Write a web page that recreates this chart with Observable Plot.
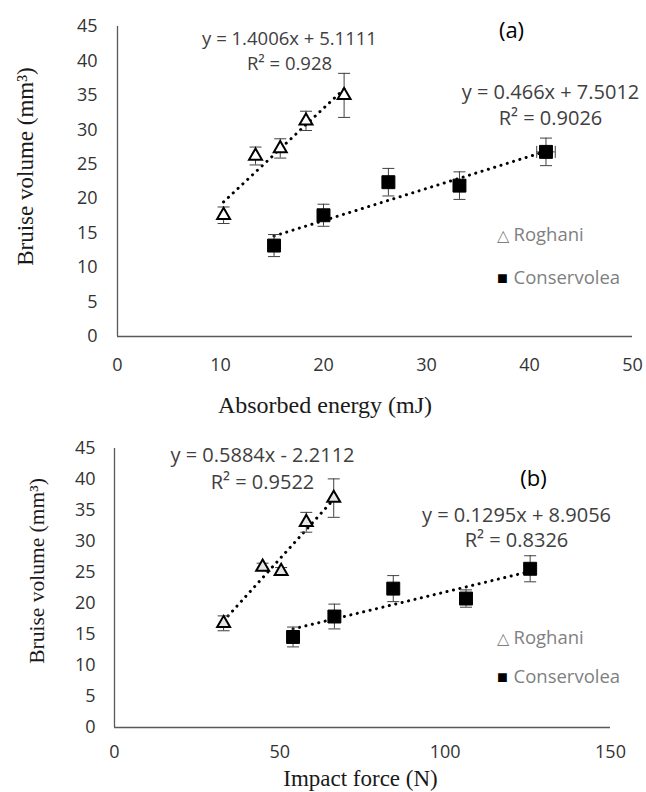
<!DOCTYPE html>
<html><head><meta charset="utf-8">
<script src="https://cdn.jsdelivr.net/npm/d3@7"></script>
<script src="https://cdn.jsdelivr.net/npm/@observablehq/plot@0.6"></script>
<style>body{margin:0;background:#fff} #chart svg{display:block}</style>
</head><body><div id="chart"></div>
<script>
// ---------- Panel (a): absorbed energy ----------
const energyRoghani = [10.3, 13.4, 15.8, 18.3, 22.0];
const volRoghaniA   = [17.6, 26.2, 27.3, 31.3, 35.0];
const errRoghaniA   = [1.2, 1.3, 1.4, 1.4, 3.2];
const energyCons    = [15.2, 20.0, 26.3, 33.2, 41.6];
const volConsA      = [13.2, 17.6, 22.4, 21.9, 26.8];
const errConsA      = [1.6, 1.6, 2.0, 2.0, 2.0];
const xErrConsA     = [0.4, 0.4, 0.5, 0.5, 0.9];
const slopesA       = [1.4006, 0.466];
const interceptsA   = [5.1111, 7.5012];
const eqLabelsA     = ["y = 1.4006x + 5.1111", "R² = 0.928", "y = 0.466x + 7.5012", "R² = 0.9026"];
const xTicksA       = [0, 10, 20, 30, 40, 50];

// ---------- Panel (b): impact force ----------
const forceRoghani  = [33.0, 44.8, 50.4, 58.0, 66.3];
const volRoghaniB   = [16.8, 25.9, 25.2, 33.1, 37.0];
const errRoghaniB   = [1.2, 0.6, 0.6, 1.6, 3.1];
const forceCons     = [54.0, 66.5, 84.3, 106.3, 125.7];
const volConsB      = [14.6, 17.9, 22.4, 20.8, 25.6];
const errConsB      = [1.6, 2.0, 2.1, 1.4, 2.1];
const slopesB       = [0.5884, 0.1295];
const interceptsB   = [-2.2112, 8.9056];
const eqLabelsB     = ["y = 0.5884x - 2.2112", "R² = 0.9522", "y = 0.1295x + 8.9056", "R² = 0.8326"];
const xTicksB       = [0, 50, 100, 150];

const yTicks = [0, 5, 10, 15, 20, 25, 30, 35, 40, 45];
const seriesNames = ["Roghani", "Conservolea"];
const yTitle = "Bruise volume (mm³)";

const capH = {draw(ctx, size){ const w = Math.sqrt(size/Math.PI); ctx.moveTo(-w,0); ctx.lineTo(w,0); }};
const capV = {draw(ctx, size){ const w = Math.sqrt(size/Math.PI); ctx.moveTo(0,-w); ctx.lineTo(0,w); }};

function rows(xs, ys, es, xes){ return xs.map((x,i)=>({x, y: ys[i], e: es[i], xe: xes ? xes[i] : 0})); }
function trend(xs, m, b){ const [x0,x1] = d3.extent(xs); return [{x:x0, y:m*x0+b}, {x:x1, y:m*x1+b}]; }

const SANS = "Open Sans, Liberation Sans, sans-serif";
const SERIF = "Liberation Serif, Times New Roman, serif";

function panel(c){
  const R = rows(c.xr, c.yr, c.er);
  const C = rows(c.xc, c.yc, c.ec, c.xec);
  const ann = (t, o) => Plot.text([t], Object.assign({frameAnchor:"top-left", text:d=>d, fontFamily:SANS, fontSize:20, fill:"#404040", textAnchor:"middle", lineAnchor:"middle"}, o));
  const errStroke = "#404040";
  const errMarks = (D) => [
    Plot.ruleX(D, {x:"x", y1:d=>d.y-d.e, y2:d=>d.y+d.e, stroke:errStroke, strokeWidth:1}),
    Plot.dot(D, {x:"x", y:d=>d.y+d.e, symbol:capH, r:6, fill:"none", stroke:errStroke, strokeWidth:1}),
    Plot.dot(D, {x:"x", y:d=>d.y-d.e, symbol:capH, r:6, fill:"none", stroke:errStroke, strokeWidth:1})
  ];
  const H = C.filter(d=>d.xe>0);
  return Plot.plot({
    width: 646, height: 396,
    marginLeft: c.ml, marginRight: c.mr, marginTop: c.mt, marginBottom: c.mb,
    style: {fontFamily: SANS, fontSize: "18px", color: "#333", background: "#fff", overflow: "visible"},
    x: {domain: c.xdom},
    y: {domain: [0, 45]},
    marks: [
      Plot.axisY({ticks: yTicks, tickSize: 0, tickPadding: c.yPad, label: null, fontSize: 18}),
      Plot.axisX({ticks: c.xticks, tickSize: 0, tickPadding: c.xPad, label: null, fontSize: 18}),
      Plot.ruleX([0], {stroke:"#595959", strokeWidth:1.3}),
      Plot.ruleY([0], {stroke:"#595959", strokeWidth:1.3}),
      Plot.line(trend(c.xr, c.m[0], c.b[0]), {x:"x", y:"y", stroke:"black", strokeWidth:3, strokeDasharray:"0.1 6.5", strokeLinecap:"round"}),
      Plot.line(trend(c.xc, c.m[1], c.b[1]), {x:"x", y:"y", stroke:"black", strokeWidth:3, strokeDasharray:"0.1 6.5", strokeLinecap:"round"}),
      ...errMarks(R), ...errMarks(C),
      Plot.ruleY(H, {y:"y", x1:d=>d.x-d.xe, x2:d=>d.x+d.xe, stroke:errStroke, strokeWidth:1}),
      Plot.dot(H, {x:d=>d.x-d.xe, y:"y", symbol:capV, r:6, fill:"none", stroke:errStroke, strokeWidth:1}),
      Plot.dot(H, {x:d=>d.x+d.xe, y:"y", symbol:capV, r:6, fill:"none", stroke:errStroke, strokeWidth:1}),
      Plot.dot(R, {x:"x", y:"y", symbol:"triangle", r:4.8, fill:c.triFill, stroke:"black", strokeWidth:2}),
      Plot.dot(C, {x:"x", y:"y", symbol:"square", r:7.3, fill:"black", stroke:"black", strokeWidth:1}),
      ann(c.eq[0], {dx:c.e1[0], dy:c.e1[1], fontSize:c.eqSize}),
      ann(c.eq[1], {dx:c.e1[0], dy:c.e1[2], fontSize:c.eqSize}),
      ann(c.eq[2], {dx:c.e2[0], dy:c.e2[1]}),
      ann(c.eq[3], {dx:c.e2[0], dy:c.e2[2]}),
      ann(c.tag, {dx:c.tagPos[0], dy:c.tagPos[1], fontSize:22, fill:"black"}),
      ann("△", {dx:c.leg[0], dy:c.leg[1], fontSize:16, fill:"#7f7f7f"}),
      ann(seriesNames[0], {dx:c.leg[0]+11, dy:c.leg[1], textAnchor:"start", fontSize:18.5, fill:"#7f7f7f"}),
      ann("■", {dx:c.leg[0], dy:c.leg[2], fontSize:18, fill:"black"}),
      ann(seriesNames[1], {dx:c.leg[0]+11, dy:c.leg[2], textAnchor:"start", fontSize:18.5, fill:"#7f7f7f"}),
      Plot.text([c.xTitle], {frameAnchor:"bottom", text:d=>d, dx:c.xt[0], dy:c.xt[1], textAnchor:"middle", lineAnchor:"middle", fontFamily:SERIF, fontSize:c.xtSize, fill:"#1a1a1a"}),
      Plot.text([yTitle], {frameAnchor:"left", text:d=>d, rotate:-90, dx:c.yt[0], dy:c.yt[1], textAnchor:"middle", lineAnchor:"middle", fontFamily:SERIF, fontSize:c.ytSize, fill:"#1a1a1a"})
    ]
  });
}

const chart = document.getElementById("chart");
chart.appendChild(panel({
  xr: energyRoghani, yr: volRoghaniA, er: errRoghaniA,
  xc: energyCons, yc: volConsA, ec: errConsA, xec: xErrConsA,
  m: slopesA, b: interceptsA, eq: eqLabelsA, xticks: xTicksA, xdom: [0, 50],
  ml: 117, mr: 14, mt: 26, mb: 60, yPad: 20, xPad: 22,
  triFill: "white", tag: "(a)", tagPos: [394, 4], eqSize: 18.5,
  e1: [172, 13, 38], e2: [433, 66, 92], leg: [385, 209, 252],
  xTitle: "Absorbed energy (mJ)", xt: [-50, 69], xtSize: 24, yt: [-92, -15], ytSize: 23
}));
chart.appendChild(panel({
  xr: forceRoghani, yr: volRoghaniB, er: errRoghaniB,
  xc: forceCons, yc: volConsB, ec: errConsB, xec: null,
  m: slopesB, b: interceptsB, eq: eqLabelsB, xticks: xTicksB, xdom: [0, 150],
  ml: 114, mr: 36, mt: 52, mb: 65, yPad: 19, xPad: 18,
  triFill: "#e6e6e6", tag: "(b)", tagPos: [419, 30], eqSize: 20,
  e1: [148, 7, 34], e2: [402, 67, 92], leg: [388, 190, 229],
  xTitle: "Impact force (N)", xt: [-2, 51], xtSize: 23, yt: [-77, -17], ytSize: 21.5
}));
</script></body></html>
